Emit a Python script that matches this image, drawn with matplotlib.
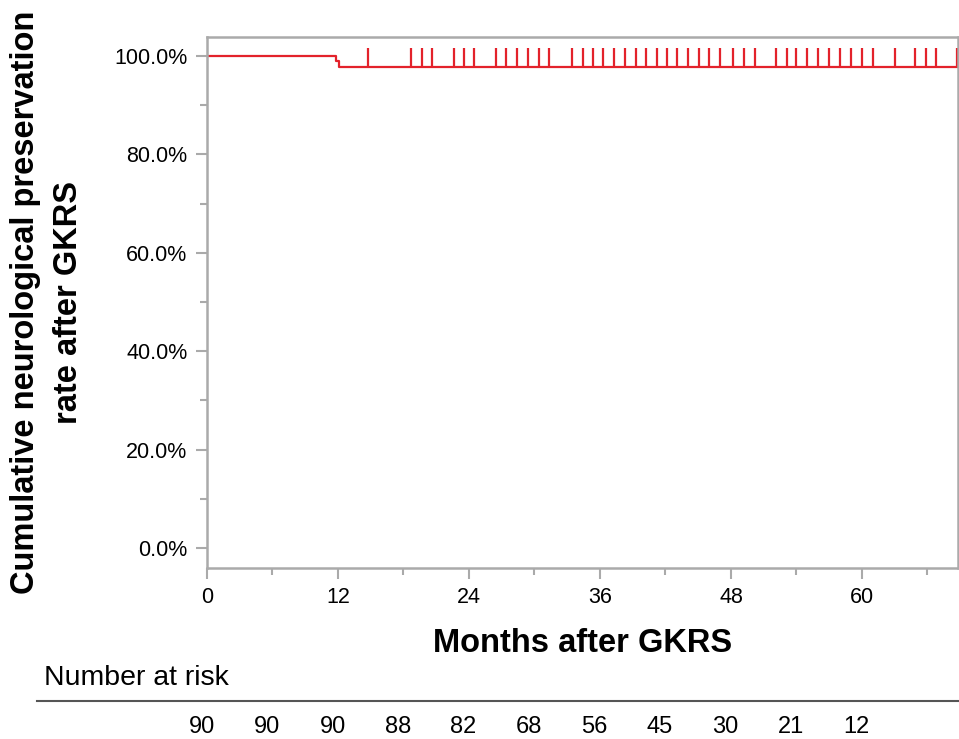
#!/usr/bin/env python3
# Kaplan-Meier style curve with censor marks and a number-at-risk row
import numpy as np
import matplotlib.pyplot as plt
from matplotlib.lines import Line2D
from matplotlib.ticker import MultipleLocator, FuncFormatter
import matplotlib.transforms as mtransforms

plt.rcParams['font.family'] = ['Liberation Sans', 'DejaVu Sans']

# step curve (months, cumulative preservation %)
step_times = [0, 11.8, 12.1, 68.8]
step_surv = [100.0, 98.89, 97.78, 97.78]

# censored observations (months)
censor_times = [14.75, 18.7, 19.7, 20.6, 22.6, 23.5, 24.5, 26.5, 27.4, 28.4,
                29.4, 30.4, 31.3, 33.4, 34.4, 35.4, 36.3, 37.3, 38.3, 39.3,
                40.2, 41.2, 42.1, 43.1, 44.1, 45.1, 46.0, 47.0, 48.2, 49.2,
                50.2, 52.1, 53.1, 54.0, 55.0, 56.0, 57.0, 58.0, 59.0, 60.0,
                61.0, 63.0, 64.9, 65.9, 66.8, 68.7]
censor_level = 97.78

risk_months = [0, 6, 12, 18, 24, 30, 36, 42, 48, 54, 60]
risk_counts = [90, 90, 90, 88, 82, 68, 56, 45, 30, 21, 12]

red = '#e3222b'
gray = '#aaaaaa'

fig = plt.figure(figsize=(9.59, 7.39), dpi=100)
ax = fig.add_axes([207 / 959, 171 / 739, 751 / 959, 531 / 739])

ax.step(step_times, step_surv, where='post', color=red, lw=1.6)
ax.vlines(censor_times, censor_level, censor_level + 3.9, color=red, lw=1.6)

ax.set_xlim(0, 68.8)
ax.set_ylim(-4.07, 103.86)

ax.xaxis.set_major_locator(MultipleLocator(12))
ax.xaxis.set_minor_locator(MultipleLocator(6))
ax.yaxis.set_major_locator(MultipleLocator(20))
ax.yaxis.set_minor_locator(MultipleLocator(10))
ax.yaxis.set_major_formatter(FuncFormatter(lambda v, p: '%.1f%%' % v))

for s in ax.spines.values():
    s.set_color(gray)
    s.set_linewidth(1.8)
ax.tick_params(which='major', length=8, width=1.5, color=gray,
               labelsize=15.5, pad=6)
ax.tick_params(which='minor', length=5, width=1.5, color=gray)

ax.set_xlabel('Months after GKRS', fontsize=23.5, fontweight='bold', labelpad=14)
ax.set_ylabel('Cumulative neurological preservation\nrate after GKRS',
              fontsize=23.5, fontweight='bold', labelpad=22, linespacing=1.5)

# number at risk table
fig.text(44 / 959, 1 - 678 / 739, 'Number at risk', fontsize=20.5,
         ha='left', va='center')
fig.add_artist(Line2D([37 / 959, 1.0], [1 - 701 / 739, 1 - 701 / 739],
                      color='#555555', lw=1.5))
trans = mtransforms.blended_transform_factory(ax.transData, fig.transFigure)
for m, n in zip(risk_months, risk_counts):
    ax.text(m - 0.5, 1 - 727 / 739, str(n), transform=trans, fontsize=17,
            ha='center', va='center', clip_on=False)

fig.savefig('out.png', dpi=100)
